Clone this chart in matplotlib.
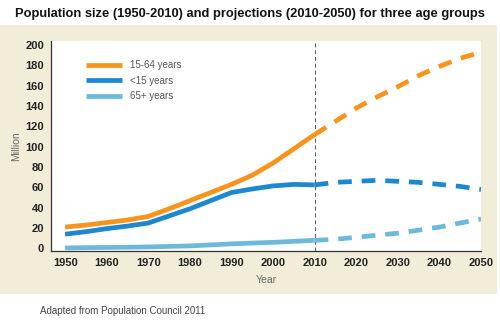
import matplotlib
matplotlib.use("Agg")
import matplotlib.pyplot as plt
from matplotlib.patches import Rectangle

years_hist = [1950, 1955, 1960, 1965, 1970, 1975, 1980, 1985, 1990, 1995, 2000, 2005, 2010]
working_hist = [21, 23, 25.5, 28, 31.5, 39, 47, 55, 63, 72, 84, 98, 112]
children_hist = [14, 16.5, 19.5, 22, 25, 32, 39, 47, 55, 58.5, 61.5, 63, 62.5]
elderly_hist = [0.5, 0.8, 1, 1.2, 1.5, 2, 2.5, 3.5, 4.5, 5.3, 6, 7, 8]

years_proj = [2010, 2015, 2020, 2025, 2030, 2035, 2040, 2045, 2050]
working_proj = [112, 125, 138, 149, 159, 170, 179, 187, 193]
children_proj = [62.5, 65, 66, 67, 66, 65, 63, 61, 58]
elderly_proj = [8, 9, 11, 13, 15, 18, 21, 25, 29]

labels = ["15-64 years", "<15 years", "65+ years"]
colors = ["#F7941D", "#1D87CF", "#6DB9DC"]
xticks = [1950, 1960, 1970, 1980, 1990, 2000, 2010, 2020, 2030, 2040, 2050]
yticks = [0, 20, 40, 60, 80, 100, 120, 140, 160, 180, 200]

W, H = 500, 333
fig = plt.figure(figsize=(5, 3.33), dpi=100)
fig.patch.set_facecolor("white")
bg = Rectangle((0, 1 - 294 / H), 497 / W, (294 - 25) / H, transform=fig.transFigure,
               facecolor="#F2EDD9", edgecolor="none", zorder=-10)
fig.patches.append(bg)

ax = fig.add_axes([51 / W, 1 - 251 / H, (481 - 51) / W, (251 - 41) / H])
ax.set_zorder(5)
ax.set_facecolor("white")
ax.set_xlim(1946.6, 2050)
ax.set_ylim(-2.5, 204)

lw = 3.4
for hist, proj, c, lab in zip([working_hist, children_hist, elderly_hist],
                              [working_proj, children_proj, elderly_proj], colors, labels):
    ax.plot(years_hist, hist, color=c, lw=lw, solid_capstyle="butt", label=lab)
    ax.plot(years_proj, proj, color=c, lw=lw, dashes=(2.9, 2.1), dash_capstyle="butt")

ax.axvline(2010, color="#555555", lw=0.7, dashes=(4, 3), zorder=0)

for s in ["top", "right"]:
    ax.spines[s].set_visible(False)
for s in ["left", "bottom"]:
    ax.spines[s].set_color("#333333")
    ax.spines[s].set_linewidth(0.9)

ax.set_xticks(xticks)
ax.set_yticks(yticks)
ax.tick_params(length=0, pad=5, labelsize=8, colors="#222222")
for t in ax.get_xticklabels() + ax.get_yticklabels():
    t.set_fontweight("bold")
    t.set_fontfamily("Liberation Sans")

ax.set_xlabel("Year", fontsize=7.5, color="#666666", labelpad=5, fontfamily="Liberation Sans")
ax.set_ylabel("Million", fontsize=7.5, color="#666666", labelpad=3, fontfamily="Liberation Sans")

leg = ax.legend(loc="upper left", bbox_to_anchor=(0.06, 0.95), frameon=False,
                handlelength=3.7, labelspacing=0.55, handletextpad=0.9,
                prop={"family": "Liberation Sans", "size": 7})
for t in leg.get_texts():
    t.set_color("#555555")

fig.text(0.5, 1 - 14 / H, "Population size (1950-2010) and projections (2010-2050) for three age groups",
         ha="center", va="center", fontsize=9.3, fontweight="bold", fontfamily="Liberation Sans",
         color="#111111")
fig.text(40 / W, 1 - 311 / H, "Adapted from Population Council 2011", ha="left", va="center",
         fontsize=7, color="#444444", fontfamily="Liberation Sans")

fig.savefig("out.png", dpi=100)
